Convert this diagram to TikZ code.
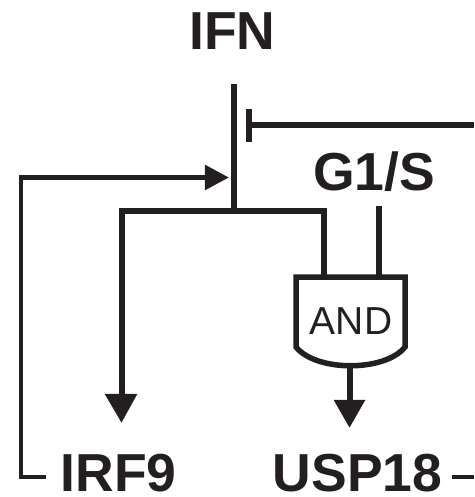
\documentclass[tikz,border=0pt]{standalone}
\usepackage{fontspec}
\setmainfont{Liberation Sans}
\usetikzlibrary{calc}
\definecolor{ink}{HTML}{231F20}
\tikzset{
  lab/.style={font=\fontsize{53.5}{53.5}\selectfont\bfseries,text=ink,inner sep=0pt,anchor=base},
  thick line/.style={draw=ink,line width=6pt},
  tip/.style={draw=ink,fill=ink,line width=0.5pt},
  gate/.style={draw=ink,line width=5.5pt,line join=miter},
}
\begin{document}
\begin{tikzpicture}[x=1pt,y=-1pt]
\useasboundingbox (0,0) rectangle (474,497);
% labels
\node[lab] (ifn) at (232.5,50) {IFN};
\node[lab] (g1s) at (374,190) {G1/S};
\node[lab] (irf) at (118.5,491) {IRF9};
\node[lab] (usp) at (357.5,491) {USP18};
% AND gate
\draw[gate] (296,277) -- (405,277) -- (405,347) .. controls (385,372) and (316,372) .. (296,347) -- cycle;
\node[font=\fontsize{39}{39}\selectfont,text=ink,inner sep=0pt,anchor=base] (and) at (351,334) {AND};
% anchor points
\coordinate (top) at (233.5,84);
\coordinate (junction) at (233.5,210.5);
\coordinate (arrowin) at (228,177.5);
\coordinate (left) at (121.5,210.5);
\coordinate (leftend) at (121.5,422);
\coordinate (in1top) at (323.5,210.5);
\coordinate (in1) at (323.5,277);
\coordinate (in2top) at (379,206);
\coordinate (in2) at (379,277);
\coordinate (outtop) at (349.5,366);
\coordinate (outend) at (349.5,427);
\coordinate (barT) at (248.5,109);
\coordinate (barB) at (248.5,142);
\coordinate (barM) at (248.5,125);
\coordinate (rightend) at (474,125);
\coordinate (fbend) at (46,477);
\coordinate (dashA) at (452,477);
\coordinate (dashB) at (474,477);
% connectors
\draw[thick line] (top) -- ($(junction)+(0,2)$);
\draw[thick line,line join=miter] (leftend) ++(0,-20) -- (left) -- (in1top) -- (in1);
\draw[tip] (105,394) -- (137,394) -- (leftend) -- cycle;
\draw[thick line] (in2top) -- (in2);
\draw[thick line] (outtop) -- (349.5,402);
\draw[tip] (334,400) -- (365,400) -- (outend) -- cycle;
\draw[draw=ink,line width=6pt] (barT) -- (barB);
\draw[draw=ink,line width=5.5pt] (barM) -- (rightend);
\draw[draw=ink,line width=4.5pt,line join=miter] (fbend) -- (21,477) -- (21,177.5) -- (208,177.5);
\draw[tip] (205,165) -- (arrowin) -- (205,190) -- cycle;
\draw[draw=ink,line width=3.5pt] (dashA) -- (dashB);
\end{tikzpicture}
\end{document}
